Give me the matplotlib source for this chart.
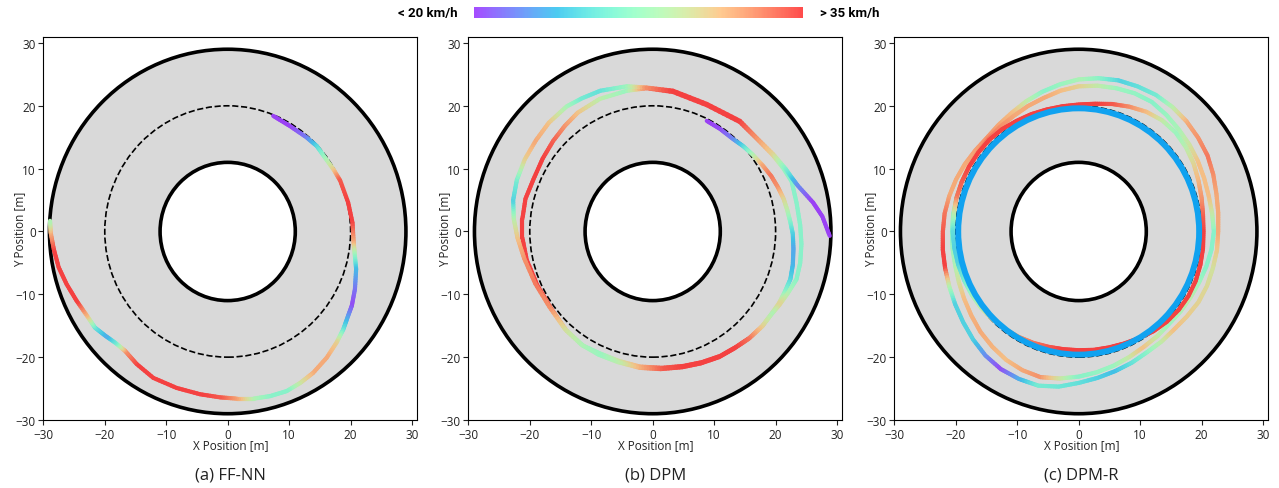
import numpy as np
import matplotlib
matplotlib.use('Agg')
import matplotlib.pyplot as plt
from matplotlib.collections import LineCollection
from matplotlib.patches import Circle
from matplotlib.colors import ListedColormap, Normalize
from matplotlib.cm import ScalarMappable

plt.rcParams['font.family'] = ['Open Sans', 'DejaVu Sans']

# ---------------- data ----------------
R_INNER, R_OUTER, R_REF = 11, 29, 20
ticks = [-30, -20, -10, 0, 10, 20, 30]
captions = ['(a) FF-NN', '(b) DPM', '(c) DPM-R']
cbar_low, cbar_high = '< 20 km/h', '> 35 km/h'

# (a) FF-NN trajectory: x, y [m] and normalised speed (0 = <20 km/h, 1 = >35 km/h)
ffnn_x = [7.4, 10.1, 12.8, 14.5, 15.8, 17.2, 18.3, 19.6, 20.3, 20.5, 20.7, 20.9, 20.7, 20.2,
          19.6, 18.8, 17.7, 16.1, 13.9, 11.8, 9.6, 6.9, 4.2, 1.5, -1.2, -4.5, -8.3, -12.1,
          -14.8, -16.7, -18.3, -19.9, -21.6, -22.9, -24.6, -26.2, -27.5, -28.3, -28.8, -28.9]
ffnn_y = [18.4, 16.8, 15.0, 13.6, 11.8, 9.9, 8.1, 4.6, 1.4, -1.8, -3.9, -6.0, -9.2, -11.8,
          -13.4, -15.6, -17.7, -20.1, -22.5, -24.1, -25.4, -26.2, -26.6, -26.6, -26.4, -25.9,
          -24.9, -23.3, -21.1, -19.0, -17.7, -16.6, -15.3, -13.4, -11.0, -8.4, -5.7, -2.8, -0.2, 1.7]
ffnn_v = [0.0, 0.0, 0.1, 0.3, 0.5, 0.7, 0.95, 1.0, 1.0, 0.8, 0.5, 0.25, 0.1, 0.02,
          0.15, 0.35, 0.7, 0.8, 0.8, 0.65, 0.45, 0.45, 0.55, 0.8, 0.95, 1.0, 1.0, 1.0,
          1.0, 0.85, 0.4, 0.2, 0.35, 0.75, 1.0, 1.0, 1.0, 1.0, 0.8, 0.55]

# (b) DPM trajectory
dpm_x = [8.8, 11.0, 13.1, 14.7, 16.3, 17.9, 19.3, 20.4, 21.3, 21.9, 22.4, 22.8, 22.9, 22.8,
         22.4, 21.5, 20.5, 19.4, 17.9, 15.8, 13.5, 11.0, 8.0, 5.0, 1.5, -2.1, -5.5, -8.6,
         -11.3, -14.0, -16.5, -18.8, -20.5, -21.2, -21.2, -20.7, -19.4, -17.9, -16.2, -14.3,
         -12.2, -8.6, -4.2, -1.0, 3.3, 8.8, 14.2, 16.9, 19.6, 21.3, 22.6, 23.4, 24.0, 24.2,
         24.0, 23.4, 22.0, 20.6, 19.3, 17.7, 15.6, 13.3, 10.8, 7.8, 4.8, 1.3, -2.1, -5.6,
         -8.8, -11.6, -14.3, -16.8, -19.1, -20.9, -22.0, -22.6, -22.7, -22.1, -20.8, -19.0,
         -16.9, -14.0, -11.5, -8.5, -4.2, -1.0, 3.3, 8.8, 14.2, 16.9, 19.6, 21.6, 22.6, 23.6,
         26.1, 27.6, 28.8]
dpm_y = [17.6, 16.3, 14.7, 13.6, 12.2, 10.5, 8.8, 7.0, 5.2, 3.4, 1.5, -0.4, -2.8, -5.3,
         -7.6, -9.6, -11.5, -13.0, -15.0, -16.9, -18.4, -19.8, -20.8, -21.4, -21.7, -21.5,
         -20.6, -19.4, -18.2, -15.8, -12.3, -8.5, -4.5, -1.0, 2.0, 5.2, 8.3, 11.6, 14.4, 16.8,
         18.9, 21.1, 22.4, 22.8, 22.2, 20.1, 17.4, 14.8, 12.1, 10.0, 8.0, 4.6, 1.0, -2.0,
         -5.0, -7.6, -9.8, -11.7, -13.2, -15.2, -17.1, -18.6, -20.0, -21.0, -21.6, -21.9,
         -21.7, -20.8, -19.6, -18.0, -15.5, -12.0, -8.3, -4.3, -1.0, 2.0, 5.0, 8.2, 11.5,
         14.5, 17.3, 19.9, 21.2, 22.4, 23.1, 22.9, 22.4, 20.3, 17.6, 14.9, 12.3, 10.0, 8.6,
         7.3, 4.6, 2.4, -0.7]
dpm_v = [0.0, 0.02, 0.12, 0.3, 0.55, 0.8, 0.9, 0.85, 0.7, 0.6, 0.45, 0.3, 0.2, 0.22,
         0.3, 0.45, 0.7, 0.6, 0.75, 0.95, 1.0, 1.0, 1.0, 1.0, 0.95, 0.8, 0.65, 0.5,
         0.5, 0.7, 0.95, 1.0, 1.0, 1.0, 1.0, 1.0, 1.0, 1.0, 0.95, 0.85,
         0.75, 0.6, 0.5, 0.9, 1.0, 1.0, 1.0, 0.85, 0.7, 0.5, 0.45, 0.45, 0.45, 0.45,
         0.45, 0.45, 0.55, 0.7, 0.55, 0.7, 0.9, 1.0, 1.0, 1.0, 1.0, 0.95, 0.8, 0.6,
         0.5, 0.55, 0.65, 0.85, 0.9, 0.85, 0.75, 0.6, 0.3, 0.4, 0.7, 0.8,
         0.75, 0.55, 0.4, 0.35, 0.5, 0.85, 1.0, 1.0, 1.0, 0.85, 0.7, 0.45, 0.3, 0.15,
         0.0, 0.0, 0.0]

# (c) DPM-R: laps read as radius [m] at polar angle [deg], plus the settled lap
dpmr_angle = [0, 7.5, 15, 22.5, 30, 37.5, 45, 52.5, 60, 67.5, 75, 82.5,
              90, 97.5, 105, 112.5, 120, 127.5, 135, 142.5, 150, 157.5, 165, 172.5,
              180, 187.5, 195, 202.5, 210, 217.5, 225, 232.5, 240, 247.5, 255, 262.5,
              270, 277.5, 285, 292.5, 300, 307.5, 315, 322.5, 330, 337.5, 345, 352.5]
lapA_r = [20.3, 20.4, 20.7, 21.1, 21.6, 22.0, 22.3, 22.3, 22.0, 21.5, 21.0, 20.5,
          20.2, 20.1, 20.1, 20.2, 20.3, 20.5, 20.6, 20.6, 20.6, 20.6, 20.6, 20.5,
          20.5, 20.4, 20.3, 20.2, 20.1, 20.0, 19.8, 19.6, 19.4, 19.2, 19.0, 18.9,
          18.9, 19.0, 19.1, 19.3, 19.6, 20.0, 20.3, 20.5, 20.6, 20.6, 20.5, 20.4]
lapA_v = [1.0, 0.95, 0.85, 0.78, 0.7, 0.6, 0.5, 0.6, 0.75, 0.85, 0.95, 1.0,
          1.0, 1.0, 1.0, 1.0, 1.0, 1.0, 1.0, 1.0, 1.0, 0.95, 0.9, 0.6,
          0.35, 0.3, 0.3, 0.4, 0.5, 0.6, 0.7, 0.78, 0.85, 0.9, 0.95, 1.0,
          1.0, 1.0, 1.0, 1.0, 1.0, 1.0, 1.0, 1.0, 1.0, 1.0, 1.0, 1.0]
lapB_r = [22.7, 22.9, 23.2, 23.7, 24.2, 24.5, 24.8, 25.0, 25.1, 25.0, 24.9, 24.6,
          24.2, 23.6, 23.0, 22.4, 21.8, 21.4, 21.1, 21.2, 21.4, 21.6, 21.8, 22.0,
          22.1, 22.3, 22.5, 22.8, 23.2, 23.7, 24.3, 24.9, 25.3, 25.4, 25.4, 24.9,
          24.1, 23.5, 23.0, 22.6, 22.2, 22.1, 22.0, 22.2, 22.5, 22.6, 22.6, 22.7]
lapB_v = [0.8, 0.8, 0.8, 0.85, 0.9, 0.85, 0.8, 0.6, 0.4, 0.35, 0.3, 0.45,
          0.55, 0.5, 0.45, 0.6, 0.75, 0.8, 0.85, 0.82, 0.8, 0.8, 0.8, 0.9,
          0.95, 1.0, 1.0, 0.6, 0.3, 0.3, 0.3, 0.15, 0.02, 0.2, 0.4, 0.38,
          0.35, 0.3, 0.25, 0.35, 0.45, 0.6, 0.75, 0.72, 0.7, 0.68, 0.65, 0.72]
lapC_r = [22.0, 21.9, 21.9, 22.1, 22.4, 22.7, 23.0, 23.4, 23.8, 23.8, 23.6, 23.4,
          23.1, 22.6, 22.0, 21.6, 21.2, 21.0, 20.8, 20.7, 20.7, 20.6, 20.6, 20.6,
          20.6, 20.7, 20.8, 21.1, 21.5, 22.0, 22.6, 23.1, 23.6, 23.9, 24.0, 23.6,
          23.1, 22.6, 22.1, 21.6, 21.2, 21.0, 20.8, 20.9, 21.0, 21.2, 21.5, 21.8]
lapC_v = [0.45, 0.6, 0.75, 0.75, 0.75, 0.65, 0.55, 0.5, 0.45, 0.48, 0.5, 0.6,
          0.7, 0.75, 0.8, 0.8, 0.8, 0.85, 0.9, 0.85, 0.8, 0.65, 0.5, 0.48,
          0.45, 0.5, 0.55, 0.65, 0.75, 0.78, 0.8, 0.78, 0.75, 0.8, 0.85, 0.65,
          0.45, 0.48, 0.5, 0.62, 0.75, 0.62, 0.5, 0.55, 0.6, 0.52, 0.45, 0.45]
settled_r, settled_v = 19.6, 0.22

# ---------------- style ----------------
TRACK_GREY = 0.851
ALPHA = 0.7
SHADE_STEPS = 8          # colour shading steps drawn along each straight segment
rainbow = plt.get_cmap('rainbow')
base = rainbow(np.linspace(0, 1, 256))
base[:, 3] = ALPHA
cmap_bar = ListedColormap(base)
norm = Normalize(0, 1)


def speed_colors(v):
    c = rainbow(norm(np.asarray(v)))[:, :3]
    return ALPHA * c + (1 - ALPHA) * TRACK_GREY


def draw_traj(ax, x, y, v, lw=3.0, closed=False):
    """Straight segments between the read points, with the colour shaded
    along each segment from one point's speed to the next."""
    x, y, v = list(x), list(y), list(v)
    if closed:
        x, y, v = x + x[:1], y + y[:1], v + v[:1]
    p = np.column_stack([x, y]).astype(float)
    vv = np.asarray(v, dtype=float)
    segs, cols = [], []
    f = np.arange(SHADE_STEPS + 1) / SHADE_STEPS
    for i in range(len(p) - 1):
        q = p[i] + np.outer(f, p[i + 1] - p[i])
        c = vv[i] + (f[:-1] + f[1:]) / 2 * (vv[i + 1] - vv[i])
        for k in range(SHADE_STEPS):
            segs.append([q[k], q[k + 1]])
        cols.extend(c)
    lc = LineCollection(segs, colors=speed_colors(cols), linewidths=lw,
                        capstyle='round', zorder=4)
    ax.add_collection(lc)


fig = plt.figure(figsize=(12.79, 4.89), dpi=100)
W, H = 1279, 489
lefts = [43.3, 468.3, 894.3]
axes = []
for i, l in enumerate(lefts):
    ax = fig.add_axes([l / W, 1 - 421 / H, 374 / W, (421 - 38.3) / H])
    ax.add_patch(Circle((0, 0), R_OUTER, facecolor=str(TRACK_GREY), edgecolor='black',
                        lw=2.6, zorder=1))
    ax.add_patch(Circle((0, 0), R_INNER, facecolor='white', edgecolor='black',
                        lw=2.6, zorder=2))
    ax.add_patch(Circle((0, 0), R_REF, fill=False, edgecolor='black', lw=1.2,
                        ls='--', zorder=3))
    ax.set_xlim(-30, 30.85)
    ax.set_ylim(-30, 30.9)
    ax.set_xticks(ticks)
    ax.set_yticks(ticks)
    ax.tick_params(labelsize=8.5, length=3.5, width=0.8, pad=2, colors='#222222')
    for s in ax.spines.values():
        s.set_linewidth(0.8)
    ax.set_xlabel('X Position [m]', fontsize=8.5, color='#222222')
    ax.set_ylabel('Y Position [m]', fontsize=8.5, color='#222222')
    ax.xaxis.set_label_coords(0.5, -0.048)
    ax.yaxis.set_label_coords(-0.047, 0.5)
    fig.text((l + 187) / W, 1 - 476 / H, captions[i], ha='center', va='center',
             fontsize=12, color='#222222')
    axes.append(ax)

draw_traj(axes[0], ffnn_x, ffnn_y, ffnn_v, lw=3.0)
draw_traj(axes[1], dpm_x, dpm_y, dpm_v, lw=3.0)

th = np.deg2rad(dpmr_angle)
for r, v in [(lapB_r, lapB_v), (lapC_r, lapC_v), (lapA_r, lapA_v)]:
    r = np.asarray(r)
    draw_traj(axes[2], r * np.cos(th), r * np.sin(th), v, lw=3.0, closed=True)
axes[2].add_patch(Circle((0, 0), settled_r, fill=False,
                         edgecolor=rainbow(settled_v), lw=4.3, zorder=5))

# colour bar
cax = fig.add_axes([474 / W, 1 - 19 / H, 329 / W, 11 / H])
cb = fig.colorbar(ScalarMappable(norm=norm, cmap=cmap_bar), cax=cax, orientation='horizontal')
cb.outline.set_visible(False)
cb.set_ticks([])
fig.text(458 / W, 1 - 14 / H, cbar_low, ha='right', va='center', fontsize=9.5,
         fontweight='bold', family=['Roboto', 'DejaVu Sans'])
fig.text(820 / W, 1 - 14 / H, cbar_high, ha='left', va='center', fontsize=9.5,
         fontweight='bold', family=['Roboto', 'DejaVu Sans'])

fig.savefig('out.png', dpi=100)
